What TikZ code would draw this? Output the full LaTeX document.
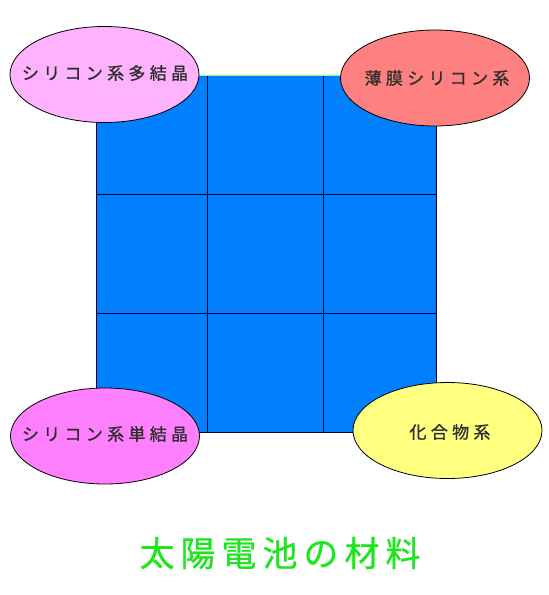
\documentclass[tikz,border=0pt]{standalone}
\usepackage{fontspec}
\newfontfamily\cjk{Noto Sans CJK JP}
\newfontfamily\cjkm{Noto Sans CJK JP}[FakeBold=1]
\newfontfamily\cjkt{Noto Sans CJK JP}[FakeBold=0.6]
\usetikzlibrary{shapes.geometric}
\definecolor{cellblue}{HTML}{0080FF}
\definecolor{pinkA}{HTML}{FFB3FF}
\definecolor{salmonB}{HTML}{FF8080}
\definecolor{magentaC}{HTML}{FF80FF}
\definecolor{yellowD}{HTML}{FFFF80}
\definecolor{titlegreen}{HTML}{1EE61E}
\definecolor{topgreen}{HTML}{80FF80}
\newdimen\lsk
\def\spaced#1{\spacedfirst#1\relax}
\def\spacedfirst#1{#1\spacedrest}
\def\spacedrest#1{\ifx#1\relax\else\kern\lsk#1\expandafter\spacedrest\fi}
\tikzset{
  blob/.style={ellipse, draw=black, line width=0.8pt, minimum width=189pt, minimum height=96pt, inner sep=0pt},
  blobtext/.style={font=\cjkm\fontsize{17}{17}\selectfont, text=black!82, inner sep=0pt},
  gridline/.style={draw=black!85!blue, line width=0.9pt}
}
\begin{document}
\begin{tikzpicture}[x=1pt,y=-1pt]
\useasboundingbox[fill=white] (0,0) rectangle (549,595);
% grid
\fill[cellblue] (96,76) rectangle (436,432);
\draw[gridline] (96,76) -- (96,432) -- (436,432) -- (436,76);
\draw[gridline] (207,76) -- (207,432);
\draw[gridline] (323,76) -- (323,432);
\draw[gridline] (96,194.5) -- (436,194.5);
\draw[gridline] (96,313) -- (436,313);
\draw[topgreen, line width=1.2pt] (96,75.5) -- (436,75.5);
% ellipses
\lsk=4.3pt
\node[blob, fill=pinkA] (tl) at (104.5,74.5) {};
\node[blobtext] (tlt) at (105,73) {\spaced{シリコン系多結晶}};
\node[blob, fill=salmonB] (tr) at (435,78) {};
\node[blobtext] (trt) at (437,78) {\spaced{薄膜シリコン系}};
\node[blob, fill=magentaC] (bl) at (105,436) {};
\node[blobtext] (blt) at (105,434) {\spaced{シリコン系単結晶}};
\node[blob, fill=yellowD] (br) at (447.5,430.5) {};
\node[blobtext] (brt) at (450,432) {\spaced{化合物系}};
% title
\lsk=6pt
\node[font=\cjkt\fontsize{35}{35}\selectfont, text=titlegreen, inner sep=0pt] (title) at (280,553) {\spaced{太陽電池の材料}};
\end{tikzpicture}
\end{document}
